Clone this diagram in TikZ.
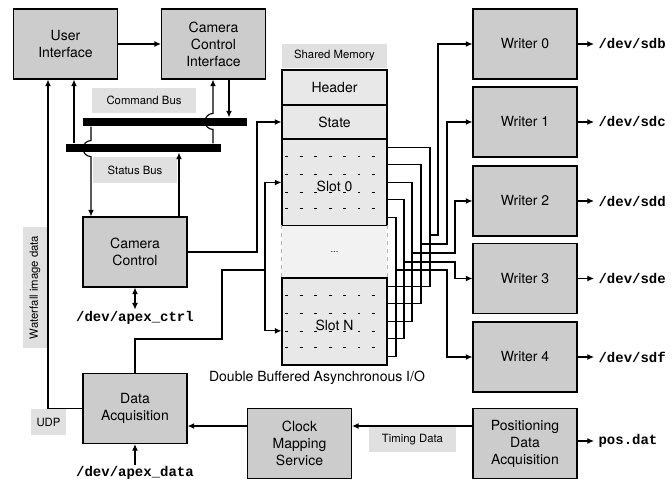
\documentclass[tikz,border=0pt]{standalone}
\usepackage{fontspec}
\setmainfont{TeX Gyre Heros}
\setsansfont{TeX Gyre Heros}
\setmonofont{Liberation Mono}
\usepackage{tikz}
\usetikzlibrary{arrows.meta,calc}
\definecolor{boxgray}{gray}{0.8}
\definecolor{memgray}{gray}{0.91}
\definecolor{lblgray}{gray}{0.88}
\definecolor{gapgray}{gray}{0.95}

\begin{document}
\begin{tikzpicture}[x=0.75pt,y=-0.75pt,line width=0.85pt,>={Latex[length=5pt,width=4.5pt]},
    blk/.style={draw,fill=boxgray,minimum width=78pt,minimum height=52.5pt,align=center,font=\fontsize{10.5}{12.75}\selectfont},
    mem/.style={draw,fill=memgray,minimum width=78.75pt,font=\fontsize{10.5}{12.75}\selectfont},
    lbl/.style={fill=lblgray,inner sep=0pt,font=\fontsize{8.5}{10}\selectfont},
    bus/.style={fill=black,inner sep=0pt,minimum height=6pt},
    dev/.style={font=\fontsize{10.5}{12}\selectfont\ttfamily\bfseries,inner sep=1pt}]
    \useasboundingbox (0,0) rectangle (672,484);

    \node[blk] (ui) at (65.5,44) {User\\Interface};
    \node[blk] (cci) at (213.5,44) {Camera\\Control\\Interface};
    \node[blk] (cc) at (135,252) {Camera\\Control};
    \node[blk] (da) at (135,408.5) {Data\\Acquisition};
    \node[blk] (cms) at (299.5,443.5) {Clock\\Mapping\\Service};
    \node[blk] (pda) at (525,443.5) {Positioning\\Data\\Acquisition};
    \foreach \k/\y in {0/44,1/122,2/201,3/278.5,4/357}
        \node[blk] (w\k) at (525,\y) {Writer \k};

    \node[bus,minimum width=123pt] (cmdbus) at (165,122) {};
    \node[bus,minimum width=116.25pt] (stsbus) at (143.5,148) {};

    \node[lbl,minimum width=78pt,minimum height=18.75pt] (cmdlbl) at (144,100.5) {Command Bus};
    \node[lbl,minimum width=63pt,minimum height=19.5pt] (stslbl) at (135,170) {Status Bus};
    \node[lbl,minimum width=90.75pt,minimum height=18pt,rotate=90] (wflbl) at (35,287.5) {Waterfall image data};
    \node[lbl,minimum width=26.25pt,minimum height=19.5pt] (udplbl) at (48.5,422) {UDP};
    \node[lbl,minimum width=65.25pt,minimum height=18.75pt] (tdlbl) at (412.5,439.5) {Timing Data};

    \node[lbl,minimum width=78.75pt,minimum height=18pt] (smlbl) at (334.5,56) {Shared Memory};
    \node[mem,minimum height=26.25pt] (hdr) at (334.5,87.5) {Header};
    \node[mem,minimum height=25.5pt] (st) at (334.5,122) {State};
    \node[mem,minimum height=65.25pt] (s0) at (334.5,182.5) {};
    \node[fill=gapgray,minimum width=78.75pt,minimum height=39pt,font=\scriptsize] (gap) at (334.5,252) {...};
    \node[mem,minimum height=65.25pt] (sN) at (334.5,321.5) {};
    \draw[gray!60,dashed] (gap.north west) -- (gap.south west) (gap.north east) -- (gap.south east);
    \foreach \s in {s0,sN}
        \foreach \f in {0.21,0.41,0.61,0.8}
            \draw[line width=0.8pt,dash pattern=on 2pt off 8.85pt] ($(\s.north west)!\f!(\s.south west)+(4,0)$) -- ++(94,0);
    \node[font=\fontsize{10.5}{12.75}\selectfont,inner sep=0pt] (s0txt) at ($(s0)+(0,4)$) {Slot 0};
    \node[font=\fontsize{10.5}{12.75}\selectfont,inner sep=0pt] (sNtxt) at ($(sN)+(0,4)$) {Slot N};

    \node[dev] (ctrl) at (135,318) {/dev/apex\_ctrl};
    \node[dev] (data) at (135,473) {/dev/apex\_data};
    \node[dev,anchor=west,inner sep=3pt] (posdat) at (594,441) {pos.dat};
    \node[font=\fontsize{10.5}{12}\selectfont] (dbl) at (317,378) {Double Buffered Asynchronous I/O};
    \foreach \k/\d in {0/sdb,1/sdc,2/sdd,3/sde,4/sdf}{
        \node[dev,anchor=west,inner sep=3pt] (d\k) at (594,0 |- w\k.east) {/dev/\d};
        \draw[->] (w\k.east) -- (d\k.west);
    }

    \draw[->] (ui) -- (cci);
    \draw[->] (74,0 |- stsbus.north) -- (74,0 |- ui.south);
    \draw[->] (91,0 |- cmdbus.south) -- ++(0,14) arc[start angle=90,end angle=270,radius=6pt] -- (91,0 |- cc.north);
    \draw[->] (179,0 |- cc.north) -- (179,0 |- stsbus.south);
    \draw[->] (213,0 |- stsbus.north) -- ++(0,-14) arc[start angle=270,end angle=90,radius=6pt] -- (213,0 |- cci.south);
    \draw[->] (229,0 |- cci.south) -- (229,0 |- cmdbus.north);

    \draw[->] (cc.east) -| (257,0 |- st.west) -- (st.west);
    \coordinate (j1) at (222,339);
    \coordinate (j2) at (265,270);
    \draw (da.north) |- (j1) |- (j2);
    \draw[->] (j2) |- (s0.west);
    \draw[->] (j2) |- ([yshift=-7pt]sN.west);

    \draw[->] (da.west) -| (48,0 |- ui.south);
    \draw[<->] (cc.south) -- (ctrl.north);
    \draw[->] (data.north) -- (da.south);
    \draw[->] (cms.west |- 0,426) -- (da.east |- 0,426);
    \draw[->] (pda.west |- 0,426) -- (cms.east |- 0,426);
    \draw[->] (pda.east |- 0,441) -- (posdat.west);

    \foreach \o/\xb/\yj/\xw/\k in {9/430/235/438/0,26/421/244/447/1,44/412/253/455/2,61/404/262/455/3,79/396/270/447/4}{
        \coordinate (a) at ($(s0.north east)+(0,\o)$);
        \coordinate (b) at ($(sN.north east)+(0,\o)$);
        \draw (a) -| (\xb,0 |- b) -- (b);
        \draw[->] (\xb,\yj) -| (\xw,0 |- w\k.west) -- (w\k.west);
    }
\end{tikzpicture}
\end{document}
